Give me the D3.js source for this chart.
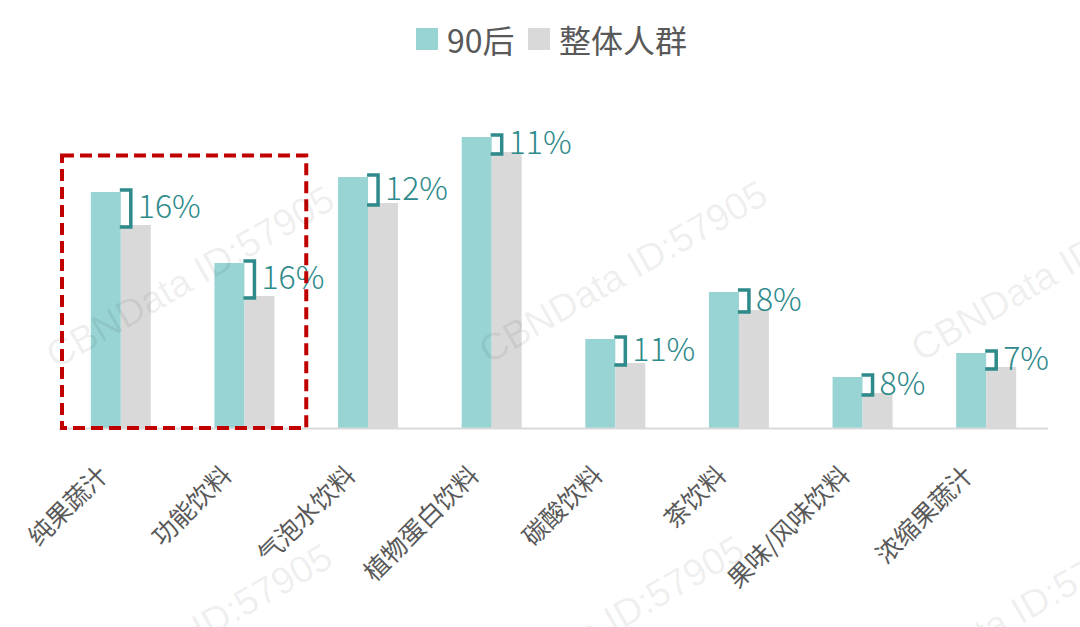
<!DOCTYPE html>
<html>
<head>
<meta charset="utf-8">
<script src="https://cdn.jsdelivr.net/npm/d3@7/dist/d3.min.js"></script>
<style>
  html, body { margin: 0; padding: 0; background: #fff; }
  svg { display: block; }
</style>
</head>
<body>
<svg id="chart" width="1080" height="627"></svg>
<script>
// Beverage categories
const categories = ["纯果蔬汁", "功能饮料", "气泡水饮料", "植物蛋白饮料", "碳酸饮料", "茶饮料", "果味/风味饮料", "浓缩果蔬汁"];
// Series names
const seriesNames = ["90后", "整体人群"];
// Share of each group (%)
const gen90Values = [23.6, 16.5, 25.1, 29.1, 8.9, 13.6, 5.1, 7.5];
const overallValues = [20.3, 13.2, 22.5, 27.6, 6.5, 11.8, 3.5, 6.1];
// Gap labels drawn next to each bracket
const gapLabels = ["16%", "16%", "12%", "11%", "11%", "8%", "8%", "7%"];
// Categories highlighted by the dashed frame
const highlighted = ["纯果蔬汁", "功能饮料"];

const W = 1080, H = 627;
const baseY = 428;
const colors = { gen90: "#98d4d4", overall: "#d9d9d9", bracket: "#2e8a8b", text: "#595959", frame: "#c00000" };
const cjk = "'Noto Sans CJK SC', 'Noto Sans', sans-serif";

const svg = d3.select("#chart");
svg.append("rect").attr("width", W).attr("height", H).attr("fill", "#fff");

const x = d3.scaleBand().domain(categories).range([59, 1048]).paddingInner(0).paddingOuter(0);
const y = d3.scaleLinear().domain([0, 30]).range([baseY, 128]);
const barW = 30;

const rows = categories.map((c, i) => ({ cat: c, a: gen90Values[i], b: overallValues[i], label: gapLabels[i] }));
const cx = d => x(d.cat) + x.bandwidth() / 2;

// Bars
const g = svg.append("g");
g.selectAll("rect.gen90").data(rows).join("rect")
  .attr("class", "gen90")
  .attr("x", d => cx(d) - barW)
  .attr("y", d => y(d.a))
  .attr("width", barW)
  .attr("height", d => y(0) - y(d.a))
  .attr("fill", colors.gen90);
g.selectAll("rect.overall").data(rows).join("rect")
  .attr("class", "overall")
  .attr("x", d => cx(d))
  .attr("y", d => y(d.b))
  .attr("width", barW)
  .attr("height", d => y(0) - y(d.b))
  .attr("fill", colors.overall);

// Category axis
const axis = svg.append("g").attr("transform", `translate(0,${baseY})`)
  .call(d3.axisBottom(x).tickSize(0).tickPadding(0));
axis.select(".domain").attr("stroke", "#d9d9d9").attr("stroke-width", 2).attr("d", `M${x.range()[0]},0.5H${x.range()[1]}`);
axis.selectAll(".tick text")
  .attr("font-family", cjk)
  .attr("font-size", 25)
  .attr("fill", colors.text)
  .attr("text-anchor", "end")
  .attr("dominant-baseline", "central")
  .attr("transform", "translate(-19,41) rotate(-45)")
  .attr("y", 0).attr("dy", 0);

// Brackets showing the gap between the two groups
const br = svg.append("g");
br.selectAll("path").data(rows).join("path")
  .attr("d", d => {
    const x0 = cx(d) - 1, x1 = cx(d) + 10;
    const t = y(d.a) - 2, b = y(d.b) + 2;
    return `M${x0},${t}H${x1}V${b}H${x0}`;
  })
  .attr("fill", "none")
  .attr("stroke", colors.bracket)
  .attr("stroke-width", 3.5)
  .attr("stroke-linejoin", "miter");

const fsLab = 32;
br.selectAll("text").data(rows).join("text")
  .attr("x", d => cx(d) + 17)
  .attr("y", d => (y(d.a) + y(d.b)) / 2 + 0.36 * fsLab - 2)
  .attr("font-family", cjk)
  .attr("font-weight", 300)
  .attr("font-size", fsLab)
  .attr("fill", colors.bracket)
  .text(d => d.label);

// Dashed frame around the highlighted categories
const fx0 = x(highlighted[0]) + 3;
const fx1 = x(highlighted[highlighted.length - 1]) + x.bandwidth();
svg.append("rect")
  .attr("x", fx0).attr("y", 155.5)
  .attr("width", fx1 - fx0).attr("height", baseY - 155.5)
  .attr("fill", "none")
  .attr("stroke", colors.frame)
  .attr("stroke-width", 4)
  .attr("stroke-dasharray", "12 6");

// Legend
const legend = svg.append("g").attr("font-family", cjk).attr("font-size", 32).attr("fill", colors.text);
const legendItems = [
  { name: seriesNames[0], color: colors.gen90, x: 416 },
  { name: seriesNames[1], color: colors.overall, x: 528 }
];
legendItems.forEach(it => {
  legend.append("rect").attr("x", it.x).attr("y", 28).attr("width", 22).attr("height", 22).attr("fill", it.color);
  legend.append("text").attr("x", it.x + 31).attr("y", 39).attr("dominant-baseline", "central").text(it.name);
});

// Watermark, repeated across the canvas
const marks = [[190, 277], [623, 272], [1055, 270], [188, 635], [600, 627], [1007, 618]];
const wm = svg.append("g").attr("pointer-events", "none");
marks.forEach(([mx, my]) => {
  wm.append("text")
    .attr("transform", `translate(${mx},${my}) rotate(-30)`)
    .attr("text-anchor", "middle")
    .attr("dominant-baseline", "central")
    .attr("font-family", "'Liberation Sans', Arial, sans-serif")
    .attr("font-size", 38)
    .attr("fill", "#000")
    .attr("fill-opacity", 0.07)
    .text("CBNData ID:57905");
});
</script>
</body>
</html>
